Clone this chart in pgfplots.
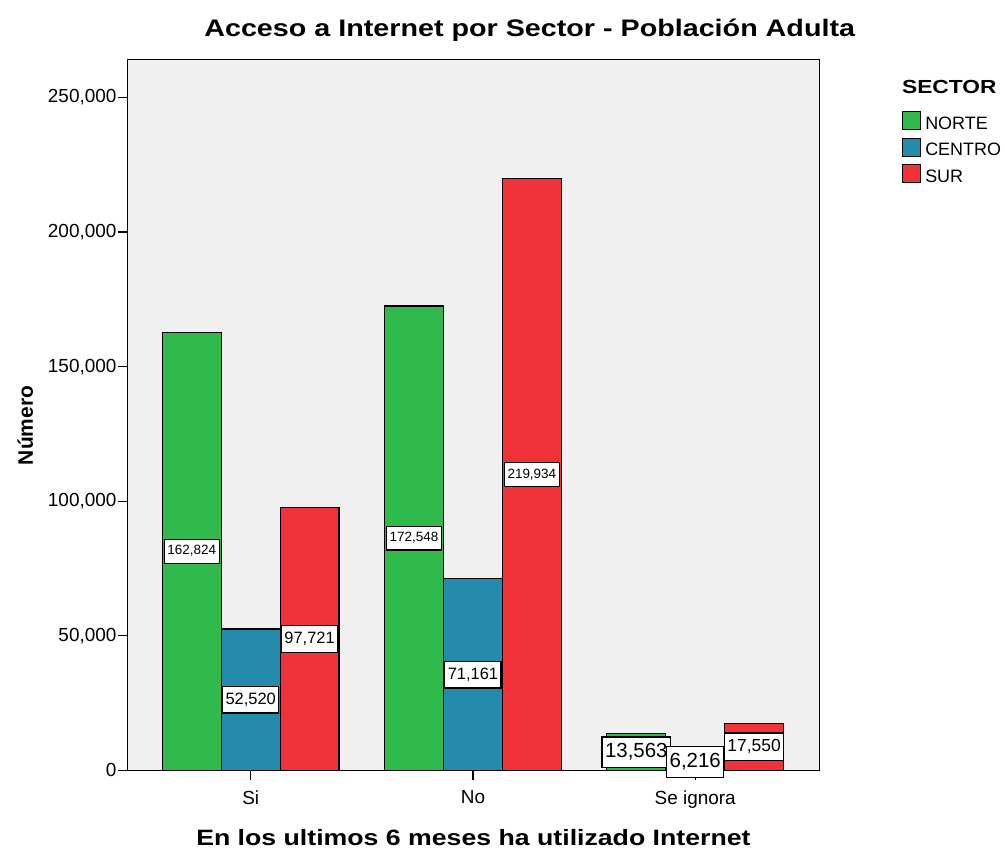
\documentclass[border=0pt]{standalone}
\usepackage{pgfplots}
\pgfplotsset{compat=1.18}
\usepackage{pgfplotstable}
\usepackage{fontspec}
\setmainfont{Liberation Sans}
\newfontfamily\widefont[FakeStretch=1.2]{Liberation Sans}
\definecolor{cnorte}{RGB}{48,186,76}
\definecolor{ccentro}{RGB}{36,139,170}
\definecolor{csur}{RGB}{240,50,58}
\definecolor{panel}{RGB}{240,240,240}
\pgfkeys{/pgf/number format/.cd, fixed, precision=0, 1000 sep={,}, assume math mode=true}
\pgfplotstableread{
x norte centro sur fn fc fs
0 162824 52520 97721 13.5 16.5 16.5
1 172548 71161 219934 13.5 16.5 13.5
2 13563 6216 17550 20.5 20.5 17.5
}\datatable
\begin{document}
\begin{tikzpicture}
\begin{axis}[
  at={(0,0)}, anchor=south west, scale only axis,
  width=694pt, height=713pt,
  xmin=-0.554, xmax=2.558, ymin=0, ymax=264000,
  xtick={0,1,2}, xticklabels={Si,No,Se ignora},
  ytick={0,50000,100000,150000,200000,250000},
  scaled y ticks=false,
  tick align=outside, xtick pos=bottom, ytick pos=left,
  major tick length=10pt,
  tick style={black, line width=1.2pt},
  axis line style={line width=1.2pt},
  ticklabel style={font=\fontsize{19}{19}\selectfont},
  yticklabel style={inner xsep=1pt},
  xticklabel style={yshift=-7pt},
  axis background/.style={fill=panel},
  clip=false,
  legend cell align=left,
  legend style={at={(1.1196,0.928)}, anchor=north west, draw=none, fill=none,
    inner sep=0pt, row sep=0pt,
    nodes={inner xsep=4pt, inner ysep=0pt, text height=13.5pt, text depth=8.5pt,
      font=\fontsize{18}{18}\selectfont}},
  legend image code/.code={\draw[#1, draw=black, line width=1.2pt] (0pt,-3pt) rectangle (18pt,15pt);},
  nodes near coords align=center,
  every node near coord/.append style={fill=white, draw=black, line width=1.2pt,
    inner xsep=3pt, inner ysep=5.5pt, text height={0.75*\fsize pt}, text depth={0.2*\fsize pt},
    font=\fontsize{\fsize}{\fsize}\selectfont},
]
\addplot[ybar, bar width=0.265, bar shift=-0.265, fill=cnorte, draw=black, line width=1.2pt]
  table[x=x, y=norte] {\datatable};
\addlegendentry{NORTE}
\addplot[ybar, bar width=0.265, bar shift=0, fill=ccentro, draw=black, line width=1.2pt]
  table[x=x, y=centro] {\datatable};
\addlegendentry{CENTRO}
\addplot[ybar, bar width=0.265, bar shift=0.265, fill=csur, draw=black, line width=1.2pt]
  table[x=x, y=sur] {\datatable};
\addlegendentry{SUR}
\addplot[draw=none, mark=none, forget plot, nodes near coords, point meta=explicit,
  visualization depends on={\thisrow{fn} \as \fsize}]
  table[x expr=\thisrow{x}-0.265, y expr=\thisrow{norte}/2, meta=norte] {\datatable};
\addplot[draw=none, mark=none, forget plot, nodes near coords, point meta=explicit,
  visualization depends on={\thisrow{fc} \as \fsize}]
  table[x expr=\thisrow{x}, y expr=\thisrow{centro}/2, meta=centro] {\datatable};
\addplot[draw=none, mark=none, forget plot, nodes near coords, point meta=explicit,
  visualization depends on={\thisrow{fs} \as \fsize}]
  table[x expr=\thisrow{x}+0.265, y expr=\thisrow{sur}/2, meta=sur] {\datatable};
\end{axis}
\node[anchor=base, font=\widefont\bfseries\fontsize{24}{24}\selectfont] at (403.5pt,736pt) {Acceso a Internet por Sector - Población Adulta};
\node[anchor=base, font=\widefont\bfseries\fontsize{22.3}{22.3}\selectfont] at (347pt,-75pt) {En los ultimos 6 meses ha utilizado Internet};
\node[anchor=base, rotate=90, font=\bfseries\fontsize{21}{21}\selectfont] at (-95pt,346pt) {Número};
\node[anchor=base west, inner xsep=0pt, font=\widefont\bfseries\fontsize{19}{19}\selectfont] at (777pt,679pt) {SECTOR};
\path (-128pt,-80pt) rectangle (877pt,773pt);
\end{tikzpicture}
\end{document}
